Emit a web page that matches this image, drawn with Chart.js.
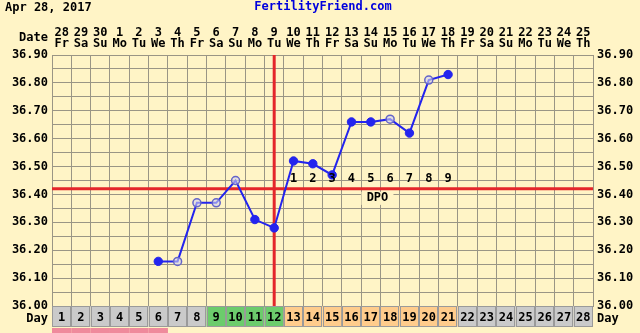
<!DOCTYPE html>
<html>
<head>
<meta charset="utf-8">
<script src="https://cdn.jsdelivr.net/npm/chart.js@4"></script>
<style>
  html, body { margin: 0; padding: 0; background: #fff4c6; }
  canvas { display: block; }
</style>
</head>
<body>
<canvas id="fertChart" width="640" height="333"></canvas>
<script>
// ==== Données
const cycleDays = ["1","2","3","4","5","6","7","8","9","10","11","12","13","14",
  "15","16","17","18","19","20","21","22","23","24","25","26","27","28"];
const dateNums = ["28","29","30","1","2","3","4","5","6","7","8","9","10","11",
  "12","13","14","15","16","17","18","19","20","21","22","23","24","25"];
const dayNames = ["Fr","Sa","Su","Mo","Tu","We","Th","Fr","Sa","Su","Mo","Tu","We","Th",
  "Fr","Sa","Su","Mo","Tu","We","Th","Fr","Sa","Su","Mo","Tu","We","Th"];
const temps = [null, null, null, null, null, 36.16, 36.16, 36.37, 36.37, 36.45, 36.31, 36.28,
  36.52, 36.51, 36.47, 36.66, 36.66, 36.67, 36.62, 36.81, 36.83,
  null, null, null, null, null, null, null];
const openDays = [7, 8, 9, 10, 18, 20];          // points "ouverts"
const dayPhase = ["n","n","n","n","n","n","n","n","f","f","f","f",
  "l","l","l","l","l","l","l","l","l","n","n","n","n","n","n","n"];
const mensesDays = [1, 2, 3, 4, 5, 6];
const coverline = 36.42;
const ovulationDay = 12;
const dpoLabels = ["1","2","3","4","5","6","7","8","9"];
const yMin = 36.0, yMax = 36.9, yStep = 0.05;

// ==== Styles
const BG = "#fff4c6";
const GRID = "#9a9585";
const RED = "#e4262a";
const BLUE = "#2424ee";
const FONT = "'DejaVu Sans Mono', monospace";
const phaseColor = { n: "#cacaca", f: "#6ccc6c", l: "#ffcc8c" };

function yLabel(v) {
  return Math.abs(v * 10 - Math.round(v * 10)) < 1e-6 ? v.toFixed(2) : "";
}

const isOpen = (i) => openDays.includes(i + 1);

const fertPlugin = {
  id: "fert",
  beforeDraw(chart) {
    const ctx = chart.ctx;
    ctx.save();
    ctx.fillStyle = BG;
    ctx.fillRect(0, 0, chart.width, chart.height);
    ctx.restore();
  },
  beforeDatasetsDraw(chart) {
    const { ctx, chartArea: a, scales } = chart;
    ctx.save();
    ctx.strokeStyle = RED;
    ctx.lineWidth = 3;
    const yc = scales.y.getPixelForValue(coverline);
    ctx.beginPath();
    ctx.moveTo(a.left, yc);
    ctx.lineTo(a.right, yc);
    ctx.stroke();
    const xo = scales.x.getPixelForValue(ovulationDay - 1);
    ctx.beginPath();
    ctx.moveTo(xo, a.top);
    ctx.lineTo(xo, a.bottom);
    ctx.stroke();
    ctx.restore();
  },
  afterDatasetsDraw(chart) {
    const { ctx, scales } = chart;
    const yc = scales.y.getPixelForValue(coverline);
    ctx.save();
    ctx.font = "bold 12px " + FONT;
    ctx.fillStyle = "#000";
    ctx.textAlign = "center";
    ctx.textBaseline = "middle";
    dpoLabels.forEach((t, i) => {
      const x = scales.x.getPixelForValue(ovulationDay + i);
      ctx.fillText(t, x, yc - 10);
    });
    // DPO
    const xd = (scales.x.getPixelForValue(16) + scales.x.getPixelForValue(17)) / 2 - 3;
    ctx.fillStyle = BG;
    ctx.fillRect(xd - 16, yc + 3, 32, 13);
    ctx.fillStyle = "#000";
    ctx.fillText("DPO", xd, yc + 9.5);
    ctx.restore();
  },
  afterDraw(chart) {
    const { ctx, chartArea: a, scales } = chart;
    ctx.save();
    ctx.font = "bold 12px " + FONT;
    ctx.textBaseline = "middle";
    ctx.fillStyle = "#000";
    ctx.textAlign = "left";
    ctx.fillText("Apr 28, 2017", 5, 8);
    ctx.fillStyle = "#0000dd";
    ctx.textAlign = "center";
    ctx.fillText("FertilityFriend.com", 323, 7);
    ctx.fillStyle = "#000";
    ctx.textAlign = "right";
    ctx.fillText("Date", 48, 38);
    ctx.fillText("Day", 48, 319);
    ctx.textAlign = "left";
    ctx.fillText("Day", 597, 319);

    // ligne des jours
    const w = scales.x.getPixelForValue(1) - scales.x.getPixelForValue(0);
    const top = a.bottom, h = 21;
    cycleDays.forEach((d, i) => {
      const xc = scales.x.getPixelForValue(i);
      const x0 = xc - w / 2;
      ctx.fillStyle = phaseColor[dayPhase[i]];
      ctx.fillRect(x0, top, w, h);
      ctx.strokeStyle = "#9a9a9a";
      ctx.lineWidth = 1;
      ctx.strokeRect(Math.round(x0) + 0.5, top + 0.5, Math.round(w) - 1, h - 1);
      ctx.fillStyle = "#000";
      ctx.textAlign = "center";
      ctx.fillText(d, xc, top + 12);
      if (mensesDays.includes(i + 1)) {
        ctx.fillStyle = "#ef8a9c";
        ctx.fillRect(x0, top + h + 1, w, 6);
      }
    });
    ctx.restore();
  }
};

const ctx = document.getElementById("fertChart").getContext("2d");
new Chart(ctx, {
  type: "line",
  data: {
    labels: cycleDays,
    datasets: [{
      data: temps,
      borderColor: BLUE,
      borderWidth: 2,
      tension: 0,
      pointRadius: cycleDays.map((d, i) => isOpen(i) ? 4 : 4.2),
      pointBorderWidth: cycleDays.map((d, i) => isOpen(i) ? 1.5 : 1),
      pointBackgroundColor: cycleDays.map((d, i) => isOpen(i) ? "rgba(210,210,240,0.6)" : BLUE),
      pointBorderColor: cycleDays.map((d, i) => isOpen(i) ? "#6464c8" : BLUE),
    }],
  },
  options: {
    responsive: false,
    animation: false,
    layout: { padding: { left: 0, right: 0, top: 0, bottom: 27 } },
    plugins: { legend: { display: false }, tooltip: { enabled: false } },
    scales: {
      x: {
        type: "category",
        position: "top",
        offset: true,
        grid: { color: GRID, offset: true, drawTicks: false },
        border: { color: GRID },
        ticks: {
          color: "#000",
          padding: 6,
          maxRotation: 0,
          autoSkip: false,
          font: { family: FONT, weight: "bold", size: 12, lineHeight: 0.92 },
          callback: (v, i) => [dateNums[i], dayNames[i]],
        },
        afterFit: (s) => { s.height = 55; },
      },
      y: {
        position: "left",
        min: yMin,
        max: yMax,
        grid: { color: GRID, drawTicks: false },
        border: { color: GRID },
        ticks: {
          stepSize: yStep,
          padding: 4,
          color: "#000",
          autoSkip: false,
          font: { family: FONT, weight: "bold", size: 12 },
          callback: yLabel,
        },
        afterFit: (s) => { s.width = 52; },
      },
      y2: {
        position: "right",
        min: yMin,
        max: yMax,
        grid: { display: false, drawTicks: false },
        border: { color: GRID },
        ticks: {
          stepSize: yStep,
          padding: 4,
          color: "#000",
          autoSkip: false,
          font: { family: FONT, weight: "bold", size: 12 },
          callback: yLabel,
        },
        afterFit: (s) => { s.width = 47; },
      },
    },
  },
  plugins: [fertPlugin],
});
</script>
</body>
</html>
